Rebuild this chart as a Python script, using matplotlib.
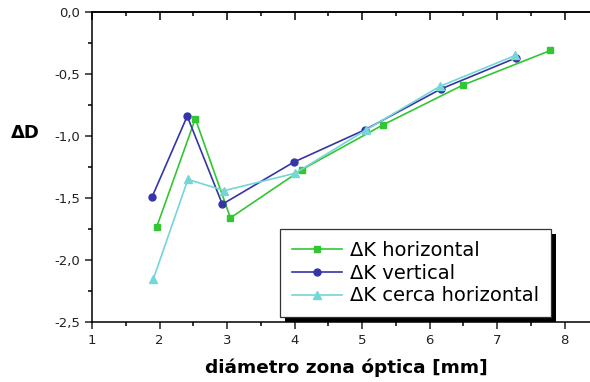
import numpy as np
import matplotlib
matplotlib.use('Agg')
import matplotlib.pyplot as plt
from matplotlib.ticker import MultipleLocator, FuncFormatter
from matplotlib.patches import Rectangle

plt.rcParams['font.family'] = 'DejaVu Sans'

# datos: diámetro de zona óptica [mm] y ΔD
x_horiz = [1.96, 2.53, 3.05, 4.11, 5.31, 6.49, 7.79]
dk_horiz = [-1.73, -0.86, -1.66, -1.27, -0.91, -0.59, -0.31]

x_vert = [1.89, 2.41, 2.93, 3.99, 5.04, 6.17, 7.28]
dk_vert = [-1.49, -0.84, -1.55, -1.21, -0.95, -0.62, -0.37]

x_cerca = [1.91, 2.42, 2.96, 4.01, 5.06, 6.15, 7.27]
dk_cerca = [-2.15, -1.35, -1.44, -1.30, -0.95, -0.60, -0.35]

labels = ['ΔK horizontal', 'ΔK vertical', 'ΔK cerca horizontal']

fig = plt.figure(figsize=(5.9, 3.82), dpi=100)
ax = fig.add_axes([0.156, 0.157, 0.849, 0.8115])

ax.plot(x_horiz, dk_horiz, color='#33c633', marker='s', markersize=4, lw=1.2, label=labels[0])
ax.plot(x_vert, dk_vert, color='#3535a8', marker='o', markersize=5, lw=1.2, label=labels[1])
ax.plot(x_cerca, dk_cerca, color='#74d6d6', marker='^', markersize=6, lw=1.2, label=labels[2])

ax.set_xlim(1, 8.42)
ax.set_ylim(-2.5, 0.0)
ax.xaxis.set_major_locator(MultipleLocator(1))
ax.xaxis.set_minor_locator(MultipleLocator(0.5))
ax.yaxis.set_major_locator(MultipleLocator(0.5))
ax.yaxis.set_minor_locator(MultipleLocator(0.25))
ax.yaxis.set_major_formatter(FuncFormatter(lambda v, p: f'{v:.1f}'.replace('.', ',')))

for s in ax.spines.values():
    s.set_linewidth(1.1)
ax.spines['right'].set_visible(False)

ax.tick_params(which='major', direction='out', length=5, width=1.1, labelsize=9.5, colors='#222222')
ax.tick_params(which='minor', direction='out', length=3, width=1.1)

# eje superior con marcas hacia dentro
top = ax.secondary_xaxis('top')
top.xaxis.set_major_locator(MultipleLocator(1))
top.xaxis.set_minor_locator(MultipleLocator(0.5))
top.tick_params(which='major', direction='in', length=6, width=1.1, labeltop=False)
top.tick_params(which='minor', direction='in', length=3, width=1.1)
top.spines['top'].set_linewidth(1.1)

ax.set_xlabel('diámetro zona óptica [mm]', fontsize=13.3, fontweight='bold')
ax.xaxis.set_label_coords(0.507, -0.118)
ax.set_ylabel('ΔD', fontsize=13, fontweight='bold', rotation=0, ha='center', va='center')
ax.yaxis.set_label_coords(-0.134, 0.61)

leg = ax.legend(loc='upper left', bbox_to_anchor=(0.375, 0.30), borderaxespad=0,
                fontsize=14, handlelength=2.6, handletextpad=0.4, labelspacing=0.2,
                borderpad=0.6, fancybox=False, framealpha=1, edgecolor='#333333')
leg.get_frame().set_linewidth(0.9)

# sombra negra del recuadro de la leyenda
fig.canvas.draw()
bb = leg.get_window_extent().transformed(fig.transFigure.inverted())
dx, dy = 5 / 590, 5 / 382
ax.add_patch(Rectangle((bb.x0 + dx, bb.y0 - dy), bb.width, bb.height, transform=fig.transFigure,
                       facecolor='black', edgecolor='none', clip_on=False, zorder=4.5))

fig.savefig('out.png', dpi=100)
